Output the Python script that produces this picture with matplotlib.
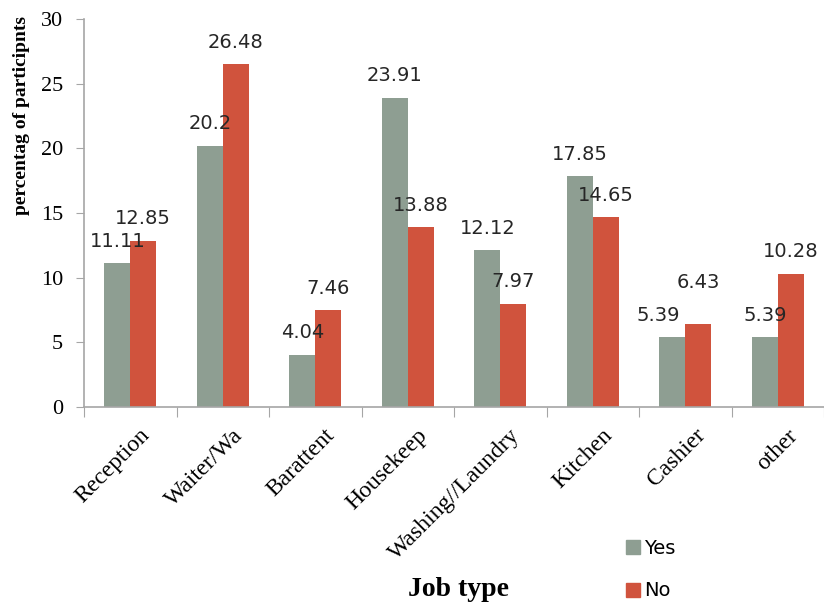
import numpy as np
import matplotlib.pyplot as plt
from matplotlib.lines import Line2D

categories = ["Reception", "Waiter/Wa", "Barattent", "Housekeep",
              "Washing//Laundry", "Kitchen", "Cashier", "other"]
yes_vals = [11.11, 20.2, 4.04, 23.91, 12.12, 17.85, 5.39, 5.39]
no_vals = [12.85, 26.48, 7.46, 13.88, 7.97, 14.65, 6.43, 10.28]
yes_labels = ["11.11", "20.2", "4.04", "23.91", "12.12", "17.85", "5.39", "5.39"]
no_labels = ["12.85", "26.48", "7.46", "13.88", "7.97", "14.65", "6.43", "10.28"]

# a couple of labels were nudged in the original
yes_shift = [(0, 0)] * 6 + [(-14, 0), (0, 0)]
no_shift = [(0, 0)] * 6 + [(0, 19), (0, 0)]

c_yes = "#8E9E92"
c_no = "#D0533D"
axis_col = "#A6A6A6"

fig = plt.figure(figsize=(8.24, 6.10), dpi=100)
ax = fig.add_axes([0.102, 0.333, 0.898, 0.636])

x = np.arange(len(categories))
w = 0.28
b1 = ax.bar(x - w / 2, yes_vals, w, color=c_yes, label="Yes")
b2 = ax.bar(x + w / 2, no_vals, w, color=c_no, label="No")

for bars, labs, shifts in [(b1, yes_labels, yes_shift), (b2, no_labels, no_shift)]:
    for r, lab, (dx, dy) in zip(bars, labs, shifts):
        ax.annotate(lab, (r.get_x() + r.get_width() / 2, r.get_height()),
                    xytext=(dx, 22 + dy), textcoords="offset pixels",
                    ha="center", va="center", fontsize=14,
                    family="DejaVu Sans", color="#262626")

ax.set_ylim(0, 30)
ax.set_yticks(range(0, 31, 5))
ax.set_xlim(-0.5, 7.4)

ax.set_xticks(np.arange(-0.5, 8, 1))
ax.set_xticklabels([])
# rotated labels sit a little right of the group centre
ax.set_xticks(x + 0.1, minor=True)
ax.set_xticklabels(categories, minor=True, rotation=45, ha="right",
                   rotation_mode="anchor", family="Liberation Serif", fontsize=17)
ax.tick_params(axis="x", which="major", length=7, color=axis_col)
ax.tick_params(axis="x", which="minor", length=0, pad=13)
ax.tick_params(axis="y", length=6, color=axis_col, pad=9)
for t in ax.get_yticklabels():
    t.set_family("Liberation Serif")
    t.set_fontsize(16)

for s in ["top", "right"]:
    ax.spines[s].set_visible(False)
for s in ["left", "bottom"]:
    ax.spines[s].set_color(axis_col)
    ax.spines[s].set_linewidth(1.2)

fig.text(0.026, 0.81, "percentag of participnts", rotation=90, ha="center",
         va="center", family="Liberation Serif", fontweight="bold", fontsize=14)
fig.text(0.556, 0.033, "Job type", ha="center", va="center",
         family="Liberation Serif", fontweight="bold", fontsize=20)

handles = [Line2D([], [], marker="s", linestyle="", markersize=10, color=c_yes),
           Line2D([], [], marker="s", linestyle="", markersize=10, color=c_no)]
fig.legend(handles, ["Yes", "No"], loc="upper left", bbox_to_anchor=(0.735, 0.145),
           frameon=False, prop={"family": "DejaVu Sans", "size": 14},
           handletextpad=0.1, labelspacing=1.2, handlelength=1.0)

fig.savefig("out.png", dpi=100)
